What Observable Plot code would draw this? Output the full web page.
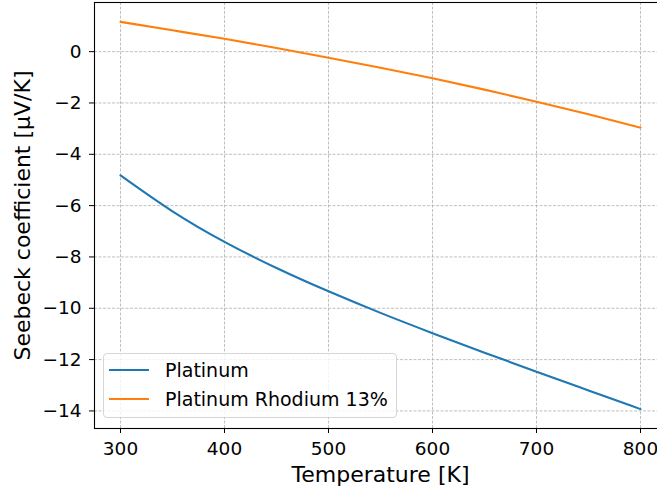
<!DOCTYPE html>
<html>
<head>
<meta charset="utf-8">
<script src="https://cdn.jsdelivr.net/npm/d3@7"></script>
<script src="https://cdn.jsdelivr.net/npm/@observablehq/plot@0.6"></script>
<style>
  html, body { margin: 0; padding: 0; background: white; overflow: hidden; }
  #wrap { position: relative; width: 657px; height: 496px; font-family: "DejaVu Sans", sans-serif; }
  #legend { position: absolute; left: 103px; top: 352.5px; width: 294px; height: 65.5px; box-sizing: border-box;
            border: 1px solid #d6d6d6; border-radius: 4px; background: rgba(255,255,255,0.8); }
  .row { position: absolute; left: 0; height: 0; }
  .swatch { position: absolute; left: 5px; width: 40px; height: 0; border-top: 2.1px solid; top: -1px; }
  .lab { position: absolute; left: 61px; top: -12px; font-size: 19px; line-height: 24px; white-space: nowrap; color: #000; }
</style>
</head>
<body>
<div id="wrap"></div>
<script>
const temps    = [300, 350, 400, 450, 500, 550, 600, 650, 700, 750, 800];
const platinum = [-4.82, -6.22, -7.41, -8.43, -9.34, -10.18, -10.97, -11.73, -12.47, -13.20, -13.93];
const ptRh13   = [1.16, 0.83, 0.50, 0.14, -0.24, -0.63, -1.04, -1.48, -1.95, -2.44, -2.96];
const seriesNames = ["Platinum", "Platinum Rhodium 13%"];
const seriesColors = ["#1f77b4", "#ff7f0e"];
const xTicks = [300, 400, 500, 600, 700, 800];
const yTicks = [-14, -12, -10, -8, -6, -4, -2, 0];
const xLabel = "Temperature [K]";
const yLabel = "Seebeck coefficient [μV/K]";

const rows = [];
temps.forEach((t, i) => {
  rows.push({T: t, S: platinum[i], series: seriesNames[0]});
  rows.push({T: t, S: ptRh13[i], series: seriesNames[1]});
});

// matplotlib-like 5% auto margins
const xMin = d3.min(temps), xMax = d3.max(temps);
const xPad = (xMax - xMin) * 0.05;
const allS = platinum.concat(ptRh13);
const yMin = d3.min(allS), yMax = d3.max(allS);
const yPad = (yMax - yMin) * 0.05;

const fmt = d => d < 0 ? "\u2212" + Math.abs(d) : String(d);
const gridStyle = {stroke: "#b0b0b0", strokeOpacity: 1, strokeWidth: 0.8, strokeDasharray: "3,1.5"};

const chart = Plot.plot({
  width: 657,
  height: 496,
  marginLeft: 94,
  marginRight: -9,
  marginTop: 2,
  marginBottom: 68,
  style: {fontFamily: "DejaVu Sans, sans-serif", color: "#000", background: "white", overflow: "visible"},
  x: {domain: [xMin - xPad, xMax + xPad]},
  y: {domain: [yMin - yPad, yMax + yPad]},
  color: {domain: seriesNames, range: seriesColors},
  marks: [
    Plot.gridX(xTicks, gridStyle),
    Plot.gridY(yTicks, gridStyle),
    Plot.line(rows, {x: "T", y: "S", z: "series", stroke: "series", strokeWidth: 2.1, curve: "natural"}),
    Plot.frame({stroke: "#000", strokeWidth: 1.1}),
    Plot.axisX({ticks: xTicks, tickSize: 5, tickPadding: 8, fontSize: 18.5, label: null, tickFormat: fmt}),
    Plot.axisY({ticks: yTicks, tickSize: 5, tickPadding: 8, fontSize: 18.5, label: null, tickFormat: fmt}),
    Plot.text([xLabel], {text: d => d, frameAnchor: "bottom", textAnchor: "middle", dy: 46.5, fontSize: 22, lineAnchor: "middle"}),
    Plot.text([yLabel], {text: d => d, frameAnchor: "left", textAnchor: "middle", dx: -72, rotate: -90, fontSize: 22, lineAnchor: "middle"})
  ]
});

const wrap = document.getElementById("wrap");
wrap.appendChild(chart);

const legend = document.createElement("div");
legend.id = "legend";
seriesNames.forEach((name, i) => {
  const row = document.createElement("div");
  row.className = "row";
  row.style.top = (16 + i * 29.7) + "px";
  const sw = document.createElement("div");
  sw.className = "swatch";
  sw.style.borderTopColor = seriesColors[i];
  const lab = document.createElement("div");
  lab.className = "lab";
  lab.textContent = name;
  row.appendChild(sw);
  row.appendChild(lab);
  legend.appendChild(row);
});
wrap.appendChild(legend);
</script>
</body>
</html>
